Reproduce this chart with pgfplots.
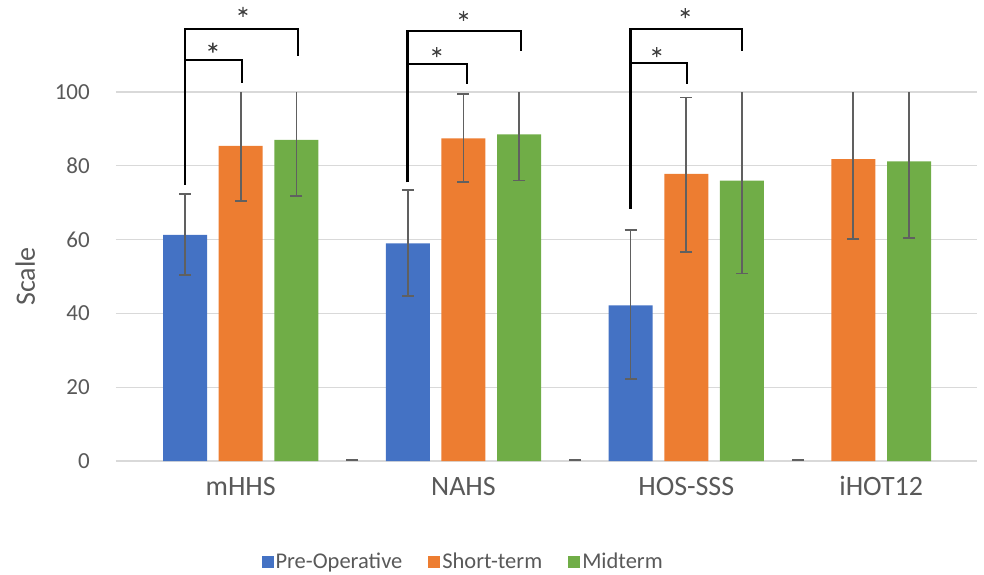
\documentclass[border=0pt]{standalone}
\usepackage{pgfplots}
\pgfplotsset{compat=1.18}
\usepackage{fontspec}
\setmainfont{Carlito}
\definecolor{cblue}{HTML}{4472C4}
\definecolor{corange}{HTML}{ED7D31}
\definecolor{cgreen}{HTML}{70AD47}
\definecolor{textgray}{HTML}{595959}
\definecolor{gridgray}{HTML}{D9D9D9}
\definecolor{errgray}{HTML}{606060}
\definecolor{stargray}{HTML}{404040}
\begin{document}
\begin{tikzpicture}
\path[use as bounding box] (0,0) rectangle (984pt,574pt);
\begin{axis}[
  at={(116pt,113pt)}, anchor=south west,
  scale only axis, width=861pt, height=369pt,
  xmin=-1.239, xmax=14.22, ymin=0, ymax=100,
  clip=false,
  axis line style={draw=none},
  major tick length=0pt,
  ytick={0,20,...,100},
  ymajorgrids, grid style={gridgray, line width=1.3pt},
  xtick={1,5,9,12.5},
  xticklabels={mHHS,NAHS,HOS-SSS,iHOT12},
  /pgf/number format/assume math mode=true,
  yticklabel style={font=\fontsize{23}{27}\selectfont, text=textgray, anchor=east, inner sep=0pt, xshift=-26pt},
  xticklabel style={font=\fontsize{28}{32}\selectfont, text=textgray, anchor=base, inner sep=0pt, yshift=-34pt},
  ylabel={Scale},
  every axis y label/.style={at={(axis description cs:-0.0941,0.5)}, rotate=90, anchor=base, font=\fontsize{28}{32}\selectfont, text=textgray},
  legend columns=-1,
  legend style={at={(axis description cs:0.6411,-0.2726)}, anchor=east, draw=none, fill=none,
    font=\fontsize{22.5}{26}\selectfont, text=textgray,
    /tikz/every even column/.append style={column sep=24pt}},
  legend image code/.code={\fill[#1] (0pt,-6pt) rectangle (12pt,6pt);},
  error bars/error bar style={color=errgray, line width=1.8pt},
  error bars/error mark options={rotate=90, color=errgray, mark size=6pt, line width=1.8pt},
]
% Pre-Operative
\addplot[ybar, bar width=0.79, bar shift=0pt, fill=cblue, draw=none]
  coordinates {(0,61.3) (4,59.0) (8,42.2)};
\addlegendentry{Pre-Operative}
% Short-term
\addplot[ybar, bar width=0.79, bar shift=0pt, fill=corange, draw=none]
  coordinates {(1,85.4) (5,87.4) (9,77.8) (12,81.8)};
\addlegendentry{Short-term}
% Midterm
\addplot[ybar, bar width=0.79, bar shift=0pt, fill=cgreen, draw=none]
  coordinates {(2,87.0) (6,88.5) (10,76.0) (13,81.2)};
\addlegendentry{Midterm}
% error bars, complete (with both caps)
\addplot[forget plot, ybar, bar width=0.79, bar shift=0pt, fill=none, draw=none,
  error bars/.cd, y dir=both, y explicit]
  coordinates {(0,61.3) += (0,11.0) -= (0,10.8)
               (4,59.0) += (0,14.4) -= (0,14.3)
               (8,42.2) += (0,20.3) -= (0,19.9)
               (5,87.4) += (0,12.1) -= (0,11.7)
               (9,77.8) += (0,20.7) -= (0,21.2)};
% error bars cut at 100: lower part with cap
\addplot[forget plot, ybar, bar width=0.79, bar shift=0pt, fill=none, draw=none,
  error bars/.cd, y dir=minus, y explicit]
  coordinates {(1,85.4) -= (0,15.0)
               (12,81.8) -= (0,21.6)
               (2,87.0) -= (0,15.1)
               (6,88.5) -= (0,12.5)
               (10,76.0) -= (0,25.2)
               (13,81.2) -= (0,20.8)};
% error bars cut at 100: upper part without cap
\addplot[forget plot, ybar, bar width=0.79, bar shift=0pt, fill=none, draw=none,
  error bars/.cd, y dir=plus, y explicit, error mark=none]
  coordinates {(1,85.4) += (0,14.6)
               (12,81.8) += (0,18.2)
               (2,87.0) += (0,13.0)
               (6,88.5) += (0,11.5)
               (10,76.0) += (0,24.0)
               (13,81.2) += (0,18.8)};
% empty fourth slot: zero-length error caps
\addplot[forget plot, only marks, mark=-, mark size=6pt, color=errgray, line width=1.8pt]
  coordinates {(3,0.3) (7,0.3) (11,0.3)};
% significance brackets
\addplot[forget plot, black, line width=2.6pt, mark=none]
  coordinates {(0,74.8) (0,117.1) (2.03,117.1) (2.03,109.8)};
\addplot[forget plot, black, line width=2.6pt, mark=none]
  coordinates {(0,108.7) (1.02,108.7) (1.02,102.4)};
\addplot[forget plot, black, line width=2.6pt, mark=none]
  coordinates {(4,75.5) (4,116.5) (6.03,116.5) (6.03,111.1)};
\addplot[forget plot, black, line width=2.6pt, mark=none]
  coordinates {(4,107.6) (5.06,107.6) (5.06,102.1)};
\addplot[forget plot, black, line width=2.6pt, mark=none]
  coordinates {(8,68.4) (8,117.1) (10,117.1) (10,111.1)};
\addplot[forget plot, black, line width=2.6pt, mark=none]
  coordinates {(8,107.9) (9.01,107.9) (9.01,102.2)};
% stars
\addplot[forget plot, only marks, mark=asterisk, mark size=5pt, color=stargray, line width=1.3pt]
  coordinates {(1.04,121.7) (0.5,112.0) (5.0,120.6) (4.52,110.8) (8.98,121.4) (8.47,110.8)};
\end{axis}
\end{tikzpicture}
\end{document}
